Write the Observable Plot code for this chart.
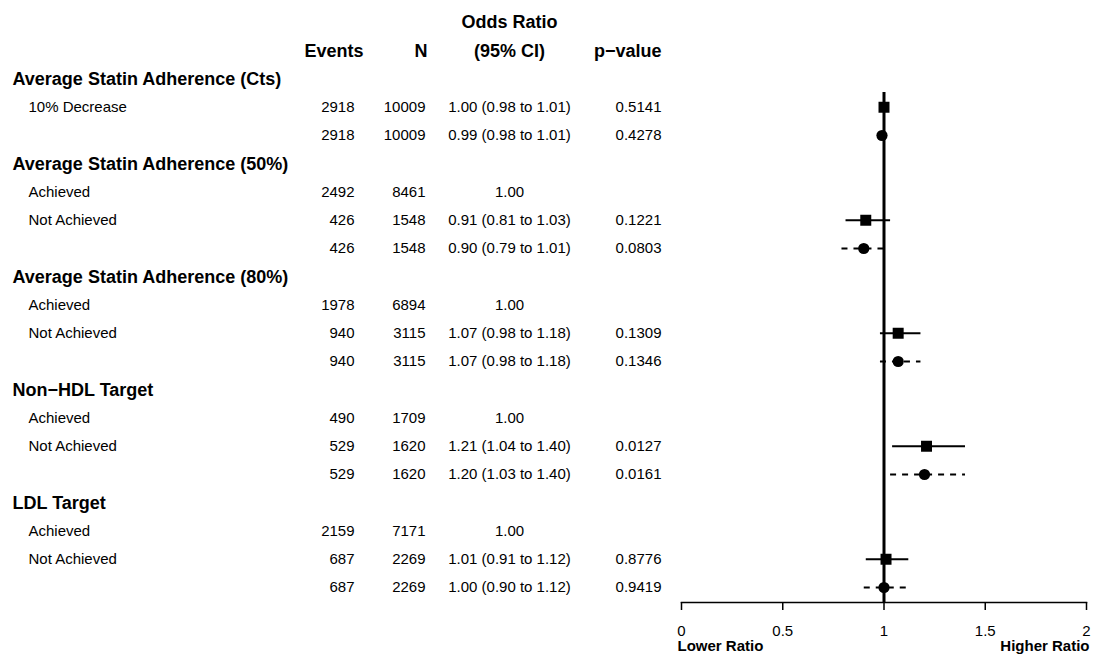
<!DOCTYPE html>
<html>
<head>
<meta charset="utf-8">
<script src="https://cdn.jsdelivr.net/npm/d3@7"></script>
<script src="https://cdn.jsdelivr.net/npm/@observablehq/plot@0.6"></script>
<style>
  html, body { margin: 0; padding: 0; background: #ffffff; }
  #chart { width: 1094px; height: 655px; }
</style>
</head>
<body>
<div id="chart"></div>
<script>
// ---- Data (one entry per table row, top to bottom) ----
const rowLabels = [
  "Average Statin Adherence (Cts)", "10% Decrease", "",
  "Average Statin Adherence (50%)", "Achieved", "Not Achieved", "",
  "Average Statin Adherence (80%)", "Achieved", "Not Achieved", "",
  "Non\u2212HDL Target", "Achieved", "Not Achieved", "",
  "LDL Target", "Achieved", "Not Achieved", ""
];
const isGroup = [1,0,0, 1,0,0,0, 1,0,0,0, 1,0,0,0, 1,0,0,0];
const events = [null,2918,2918, null,2492,426,426, null,1978,940,940, null,490,529,529, null,2159,687,687];
const nTotal = [null,10009,10009, null,8461,1548,1548, null,6894,3115,3115, null,1709,1620,1620, null,7171,2269,2269];
const oddsRatio = [null,1.00,0.99, null,1.00,0.91,0.90, null,1.00,1.07,1.07, null,1.00,1.21,1.20, null,1.00,1.01,1.00];
const ciLower = [null,0.98,0.98, null,null,0.81,0.79, null,null,0.98,0.98, null,null,1.04,1.03, null,null,0.91,0.90];
const ciUpper = [null,1.01,1.01, null,null,1.03,1.01, null,null,1.18,1.18, null,null,1.40,1.40, null,null,1.12,1.12];
const pValues = ["","0.5141","0.4278", "","","0.1221","0.0803", "","","0.1309","0.1346", "","","0.0127","0.0161", "","","0.8776","0.9419"];
// model: "A" = square / solid CI, "B" = circle / dashed CI, "ref" = reference category
const model = [null,"A","B", null,"ref","A","B", null,"ref","A","B", null,"ref","A","B", null,"ref","A","B"];

const topHeader = "Odds Ratio";
const columnHeaders = ["Events", "N", "(95% CI)", "p\u2212value"];
const xTicks = [0, 0.5, 1, 1.5, 2];
const xTickLabels = ["0", "0.5", "1", "1.5", "2"];
const axisEndLabels = ["Lower Ratio", "Higher Ratio"];

// ---- Layout options ----
const L = {
  plotLeft: 681, plotRight: 8,
  labelX: 12, itemX: 28,
  eventsX: 354, eventsHeadX: 363,
  nX: 425, nHeadX: 427,
  orX: 509, pX: 661,
  firstRow: 2
};
const font = "'Liberation Sans', Arial, Helvetica, sans-serif";
const boldSize = 18;
const textSize = 15;

const rows = rowLabels.map((label, i) => ({
  row: i + L.firstRow,
  label,
  group: !!isGroup[i],
  events: events[i],
  n: nTotal[i],
  or: oddsRatio[i],
  lo: ciLower[i],
  hi: ciUpper[i],
  p: pValues[i],
  model: model[i]
}));
const dataRows = rows.filter(d => !d.group);
const orText = d => d.or == null ? "" :
  (d.lo == null ? d.or.toFixed(2) : `${d.or.toFixed(2)} (${d.lo.toFixed(2)} to ${d.hi.toFixed(2)})`);

const colDx = x => x - L.plotLeft;
const headers = [
  {t: columnHeaders[0], x: L.eventsHeadX, a: "end"},
  {t: columnHeaders[1], x: L.nHeadX, a: "end"},
  {t: columnHeaders[2], x: L.orX, a: "middle"},
  {t: columnHeaders[3], x: L.pX, a: "end"}
];

const common = {frameAnchor: "left", lineAnchor: "middle", fill: "black"};

const plot = Plot.plot({
  width: 1094,
  height: 655,
  marginLeft: L.plotLeft,
  marginRight: L.plotRight,
  marginTop: 92,
  marginBottom: 53,
  style: {fontFamily: font, fontSize: "15px", color: "black", background: "white", overflow: "visible"},
  x: {domain: [0, 2]},
  y: {domain: [0, 20], range: [22, 587], axis: null},
  marks: [
    Plot.frame({anchor: "bottom", stroke: "black", strokeWidth: 1.5}),
    Plot.axisX({ticks: xTicks, tickFormat: (d) => xTickLabels[xTicks.indexOf(d)], tickSize: 8, tickPadding: 15,
      fontSize: 15, strokeWidth: 1.5, fill: "black", stroke: "black"}),
    Plot.ruleX([1], {stroke: "black", strokeWidth: 3}),
    Plot.link(dataRows.filter(d => d.model === "A"), {x1: "lo", x2: "hi", y1: "row", y2: "row", stroke: "black", strokeWidth: 2}),
    Plot.link(dataRows.filter(d => d.model === "B"), {x1: "lo", x2: "hi", y1: "row", y2: "row", stroke: "black", strokeWidth: 2, strokeDasharray: "6,6"}),
    Plot.dot(dataRows.filter(d => d.model === "A"), {x: "or", y: "row", symbol: "square", r: 6.2, fill: "black", stroke: "none"}),
    Plot.dot(dataRows.filter(d => d.model === "B"), {x: "or", y: "row", symbol: "circle", r: 5.6, fill: "black", stroke: "none"}),
    // table: headers
    Plot.text([topHeader], {...common, y: () => 0, text: d => d, dx: colDx(L.orX), textAnchor: "middle", fontWeight: "bold", fontSize: boldSize}),
    ...headers.map(h => Plot.text([h.t], {...common, y: () => 1, text: d => d, dx: colDx(h.x), textAnchor: h.a, fontWeight: "bold", fontSize: boldSize})),
    // group labels
    Plot.text(rows.filter(d => d.group), {...common, y: "row", text: "label", dx: colDx(L.labelX), textAnchor: "start", fontWeight: "bold", fontSize: boldSize}),
    // item rows
    Plot.text(dataRows, {...common, y: "row", text: "label", dx: colDx(L.itemX), textAnchor: "start", fontSize: textSize}),
    Plot.text(dataRows, {...common, y: "row", text: d => String(d.events), dx: colDx(L.eventsX), textAnchor: "end", fontSize: textSize}),
    Plot.text(dataRows, {...common, y: "row", text: d => String(d.n), dx: colDx(L.nX), textAnchor: "end", fontSize: textSize}),
    Plot.text(dataRows, {...common, y: "row", text: orText, dx: colDx(L.orX), textAnchor: "middle", fontSize: textSize}),
    Plot.text(dataRows, {...common, y: "row", text: "p", dx: colDx(L.pX), textAnchor: "end", fontSize: textSize}),
    // axis end labels
    Plot.text([axisEndLabels[0]], {frameAnchor: "bottom-left", text: d => d, dy: 44, dx: -4, textAnchor: "start", lineAnchor: "middle", fontWeight: "bold", fontSize: 15, fill: "black"}),
    Plot.text([axisEndLabels[1]], {frameAnchor: "bottom-right", text: d => d, dy: 44, dx: 3, textAnchor: "end", lineAnchor: "middle", fontWeight: "bold", fontSize: 15, fill: "black"})
  ]
});
document.getElementById("chart").appendChild(plot);
</script>
</body>
</html>
